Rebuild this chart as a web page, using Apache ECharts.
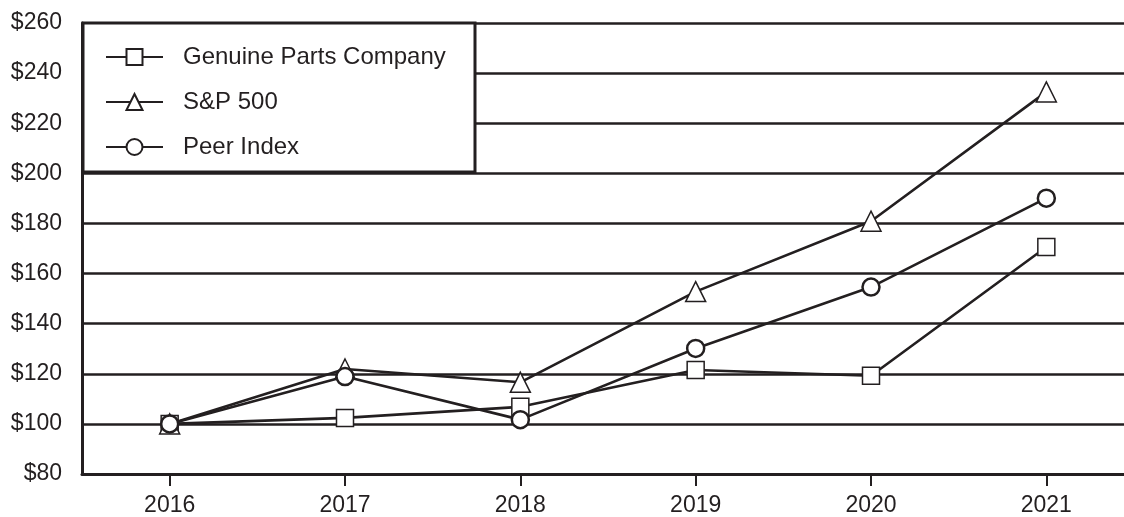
<!DOCTYPE html>
<html>
<head>
<meta charset="utf-8">
<script src="https://cdn.jsdelivr.net/npm/echarts@6/dist/echarts.min.js"></script>
<style>html,body{margin:0;padding:0;background:#fff;overflow:hidden}#c{width:1134px;height:517px}</style>
</head>
<body>
<div id="c"></div>
<script>
const years = ['2016','2017','2018','2019','2020','2021'];
const genuineParts = [100, 102.4, 106.8, 121.5, 119.2, 170.6];
const sp500 = [100, 121.9, 116.6, 152.8, 180.9, 232.5];
const peerIndex = [100, 118.9, 101.7, 130.1, 154.6, 190.1];
const seriesNames = ['Genuine Parts Company', 'S&P 500', 'Peer Index'];

const ink = '#231f20';
const font = '"Liberation Sans", Arial, sans-serif';
const chart = echarts.init(document.getElementById('c'));

function mk(name, data, symbol, size, bw) {
  return {
    name, type: 'line', data, symbol, symbolSize: size,
    showAllSymbol: true,
    lineStyle: { color: ink, width: 2.6 },
    itemStyle: { color: '#fff', borderColor: ink, borderWidth: bw },
    emphasis: { disabled: true }
  };
}

chart.setOption({
  animation: false,
  backgroundColor: '#fff',
  grid: { left: 82, top: 23, bottom: 42, right: 0, containLabel: false },
  xAxis: {
    type: 'category', data: years, boundaryGap: true,
    axisLine: { lineStyle: { color: ink, width: 3 } },
    axisTick: { show: true, alignWithLabel: true, length: 12, lineStyle: { color: ink, width: 2 } },
    axisLabel: { color: ink, fontSize: 23, fontFamily: font, margin: 20 },
    splitLine: { show: false }
  },
  yAxis: {
    type: 'value', min: 80, max: 260, interval: 20,
    axisLine: { show: true, lineStyle: { color: ink, width: 3 } },
    axisTick: { show: false },
    axisLabel: { color: ink, fontSize: 23, fontFamily: font, margin: 20, formatter: v => '$' + v },
    splitLine: { show: true, lineStyle: { color: ink, width: 2.6 } }
  },
  graphic: [{
    type: 'rect', z: 50,
    shape: { x: 83, y: 23, width: 392, height: 149 },
    style: { fill: '#fff', stroke: ink, lineWidth: 3 }
  }],
  legend: {
    orient: 'vertical', left: 100, top: 40, z: 60,
    itemWidth: 57, itemHeight: 20, itemGap: 21,
    data: seriesNames,
    textStyle: { color: ink, fontSize: 24, fontFamily: font, padding: [0, 0, 0, 15] },
    selectedMode: false
  },
  series: [
    mk(seriesNames[0], genuineParts, 'rect', 17, 1.5),
    mk(seriesNames[1], sp500, 'triangle', 20, 1.5),
    mk(seriesNames[2], peerIndex, 'circle', 17, 2.5)
  ]
});
</script>
</body>
</html>
